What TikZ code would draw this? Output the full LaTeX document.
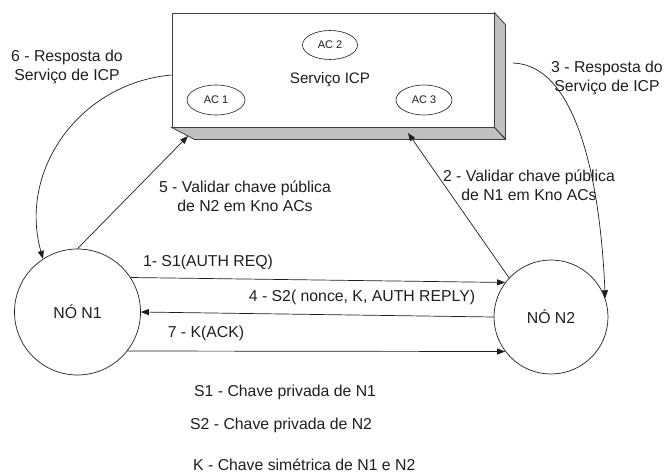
\documentclass[tikz,border=0pt]{standalone}
\usepackage{fontspec}
\setmainfont{Liberation Sans}
\usetikzlibrary{arrows.meta,shapes.geometric}
\definecolor{ink}{HTML}{1E1E1E}
\definecolor{sidegray}{HTML}{C0C0C0}
\tikzset{
  line/.style={draw=ink, line width=0.7pt},
  arr/.style={line, -{Triangle[length=8pt,width=6pt]}},
  lbl/.style={inner sep=0pt, text=ink, font=\fontsize{15.8}{19}\selectfont, align=center},
  nodecirc/.style={circle, draw=ink, line width=0.7pt, inner sep=0pt, text=ink, font=\fontsize{15.8}{19}\selectfont},
  acnode/.style={ellipse, draw=ink, line width=0.6pt, inner sep=0pt, text=ink, font=\fontsize{11}{13}\selectfont},
  face/.style={draw=ink!85, line width=0.8pt, fill=white},
  side/.style={draw=ink!85, line width=0.8pt, fill=sidegray}
}
\begin{document}
\begin{tikzpicture}[x=1pt,y=1pt]
\useasboundingbox (0,0) rectangle (664,475);

% the ICP service drawn as a slab: front face plus right and bottom sides
\node[face, rectangle, minimum width=322pt, minimum height=114pt, inner sep=0pt] (icp) at (333,405) {};
\path[side] (icp.north east) -- ++(11,-12) -- ++(0,-114) -- (icp.south east) -- cycle;
\path[side] (icp.south west) -- (icp.south east) -- ++(11,-12) -- ++(-311,0) -- cycle;
\coordinate (slabA) at (188,339);
\coordinate (slabB) at (408,342);
\coordinate (slabR) at (513,412);
\coordinate (slabL) at (icp.west |- 0,400);

\node[lbl, font=\fontsize{15.2}{18}\selectfont] (svc) at (330,395) {Serviço ICP};
\node[acnode, minimum width=55pt, minimum height=29pt] (ac2) at (330,430) {AC 2};
\node[acnode, minimum width=58pt, minimum height=30pt] (ac1) at (216,375) {AC 1};
\node[acnode, minimum width=56pt, minimum height=30pt] (ac3) at (424,375) {AC 3};

% the two peers
\node[nodecirc, minimum size=126pt] (n1) at (77.5,163) {NÓ N1};
\node[nodecirc, minimum size=114pt] (n2) at (551,158) {NÓ N2};

% messages between the peers
\draw[arr] (n1.33.7) -- (n2.143.5);
\draw[arr] (n2.180) -- (n1.0);
\draw[arr] (n1.-38) -- (n2.217);

% validation requests and replies
\draw[arr] (n1.north) -- (slabA);
\draw[arr] (n2.137) -- (slabB);
\draw[arr] (slabL) .. controls (80,392) and (18,305) .. (n1.123);
\draw[arr] (slabR) .. controls (575,410) and (600,300) .. (n2.19);

% labels
\node[lbl] (l6) at (67,408) {6 - Resposta do\\Serviço de ICP};
\node[lbl] (l3) at (607,397.5) {3 - Resposta do\\Serviço de ICP};
\node[lbl] (l5) at (245,279) {5 - Validar chave pública\\de N2 em Kno ACs};
\node[lbl] (l2) at (529,289.5) {2 - Validar chave pública\\de N1 em Kno ACs};
\node[lbl] (l1) at (208,213) {1- S1(AUTH REQ)};
\node[lbl] (l4) at (362,178) {4 - S2( nonce, K, AUTH REPLY)};
\node[lbl] (l7) at (206,142) {7 - K(ACK)};

% key legend
\node[lbl, anchor=west] (k1) at (194,83) {S1 - Chave privada de N1};
\node[lbl, anchor=west] (k2) at (190,50) {S2 - Chave privada de N2};
\node[lbl, anchor=west] (k3) at (193,10) {K - Chave simétrica de N1 e N2};
\end{tikzpicture}
\end{document}
